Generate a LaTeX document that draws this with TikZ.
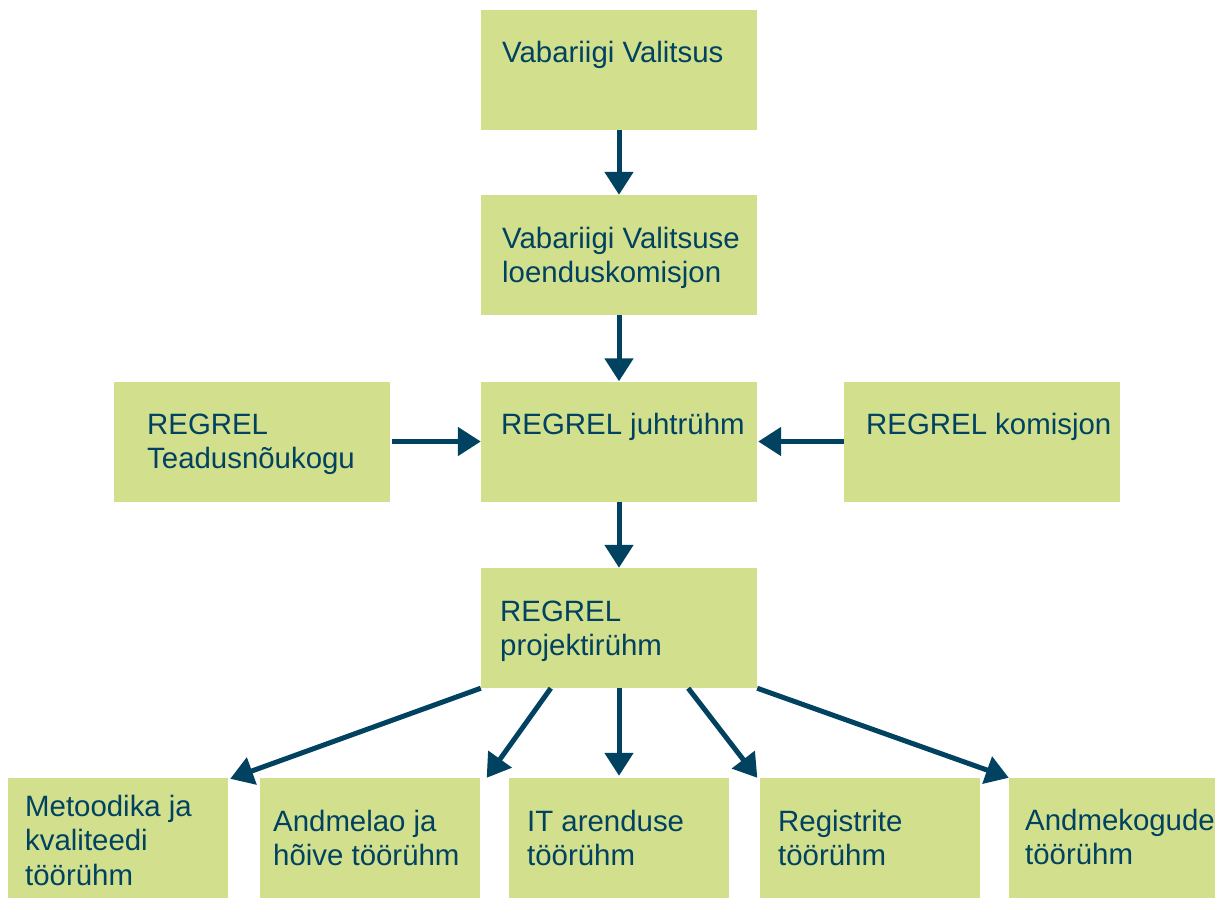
\documentclass[tikz,border=0pt]{standalone}
\usepackage{fontspec}
\setmainfont{Liberation Sans}
\usetikzlibrary{arrows.meta,calc}
\definecolor{boxgreen}{RGB}{210,223,141}
\definecolor{darkblue}{RGB}{0,66,96}
\newcommand\mylines[1]{\vtop{\baselineskip=34.5pt\lineskiplimit=-20pt #1}}
\begin{document}
\begin{tikzpicture}[x=1pt,y=-1pt,
  box/.style={fill=boxgreen,draw=none,inner sep=0pt,minimum width=276pt,minimum height=120pt},
  sbox/.style={box,minimum width=220pt},
  txt/.style={anchor=base west,inner sep=0pt,text=darkblue,font=\fontsize{29.4}{34.5}\selectfont},
  conn/.style={draw=darkblue,line width=5pt,-{Triangle[width=28pt,length=23pt]}}]
\clip (0,0) rectangle (1215,897);
\fill[white] (0,0) rectangle (1215,897);
% boxes
\node[box] (vv) at (619,70) {};
\node[box] (vvl) at (619,255) {};
\node[box] (jr) at (619,441.5) {};
\node[box] (tn) at (252,441.5) {};
\node[box] (kom) at (982,441.5) {};
\node[box] (pr) at (619,628) {};
\node[sbox] (mk) at (118,838) {};
\node[sbox] (al) at (369.5,838) {};
\node[sbox] (it) at (619,838) {};
\node[sbox] (rg) at (869.5,838) {};
\node[sbox] (ak) at (1119,838) {};
% texts
\node[txt] (tvv) at (502,62) {Vabariigi Valitsus};
\node[txt] (tvvl) at (502,248) {\mylines{\hbox{Vabariigi Valitsuse}\hbox{loenduskomisjon}}};
\node[txt] (tjr) at (501,434) {REGREL juhtrühm};
\node[txt] (ttn) at (147,434) {\mylines{\hbox{REGREL}\hbox{Teadusnõukogu}}};
\node[txt] (tkom) at (866,434) {REGREL komisjon};
\node[txt] (tpr) at (500,621) {\mylines{\hbox{REGREL}\hbox{projektirühm}}};
\node[txt] (tmk) at (25,816) {\mylines{\hbox{Metoodika ja}\hbox{kvaliteedi}\hbox{töörühm}}};
\node[txt] (tal) at (273,831) {\mylines{\hbox{Andmelao ja}\hbox{hõive töörühm}}};
\node[txt] (tit) at (527,831) {\mylines{\hbox{IT arenduse}\hbox{töörühm}}};
\node[txt] (trg) at (778,831) {\mylines{\hbox{Registrite}\hbox{töörühm}}};
\node[txt] (tak) at (1025,830) {\mylines{\hbox{Andmekogude}\hbox{töörühm}}};
% connectors
\draw[conn] (vv.south) -- (vvl.north);
\draw[conn] (vvl.south) -- (jr.north);
\draw[conn] (jr.south) -- (pr.north);
\draw[conn] ($(tn.east)+(2,0)$) -- (jr.west);
\draw[conn] (kom.west) -- ($(jr.east)+(1,0)$);
\draw[conn] (pr.south west) -- ($(mk.north east)+(2,1)$);
\draw[conn] ($(pr.south west)+(70,0)$) -- ($(al.north east)+(7,0)$);
\draw[conn] (pr.south) -- ($(it.north)+(0,-2)$);
\draw[conn] ($(pr.south east)+(-69,0)$) -- ($(rg.north west)+(-2,0)$);
\draw[conn] (pr.south east) -- (ak.north west);
\end{tikzpicture}
\end{document}
